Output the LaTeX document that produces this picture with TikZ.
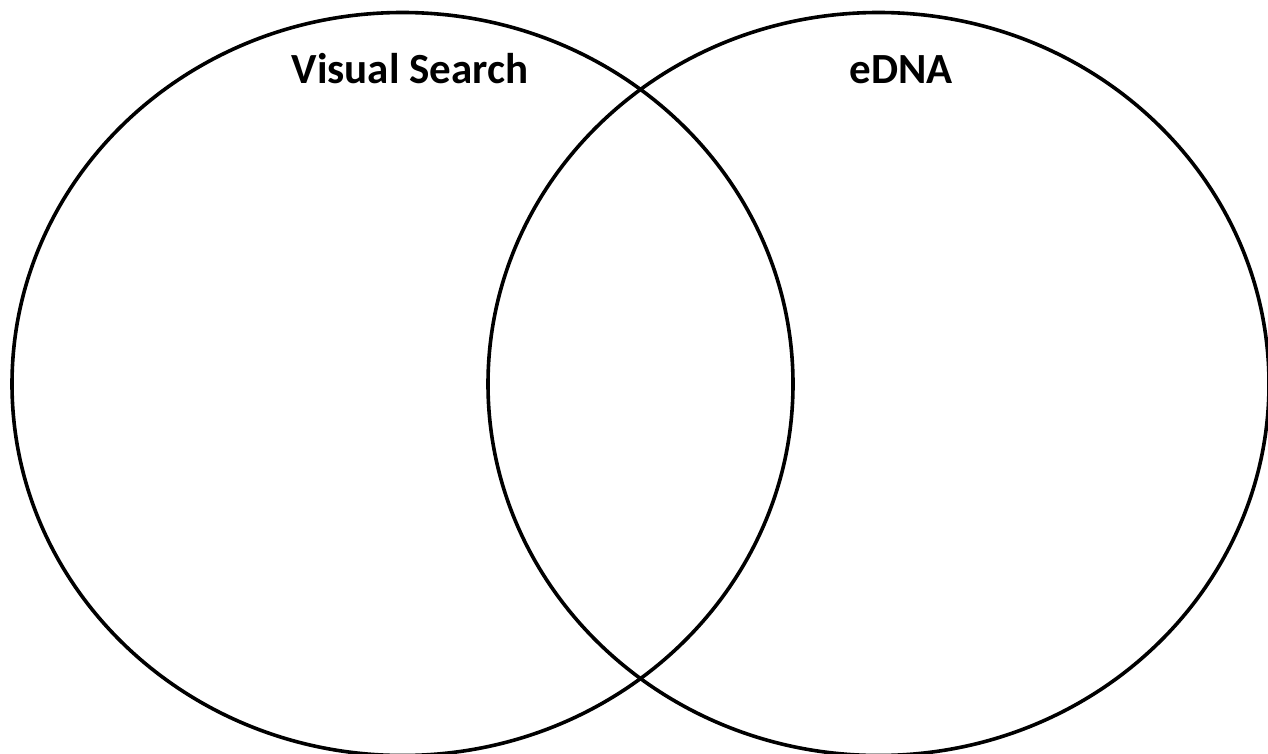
\documentclass[tikz,border=0pt]{standalone}
\usepackage{fontspec}
\setmainfont{Carlito}
\begin{document}
\begin{tikzpicture}[x=1pt,y=-1pt,
  setring/.style={draw=black,line width=3.6pt},
  setlabel/.style={font=\fontsize{43}{50}\selectfont\bfseries,anchor=base,inner sep=0pt}]
\useasboundingbox (0,0) rectangle (1268,754);
\begin{scope}
\clip (0,0) rectangle (1268,754);
\draw[setring] (402.5,384) ellipse [x radius=390.5, y radius=371.5];
\draw[setring] (878.5,384) ellipse [x radius=390.5, y radius=371.5];
\end{scope}
\node[setlabel] (visual) at (410,83.5) {Visual Search};
\node[setlabel] (edna) at (901,83.5) {eDNA};
\end{tikzpicture}
\end{document}
